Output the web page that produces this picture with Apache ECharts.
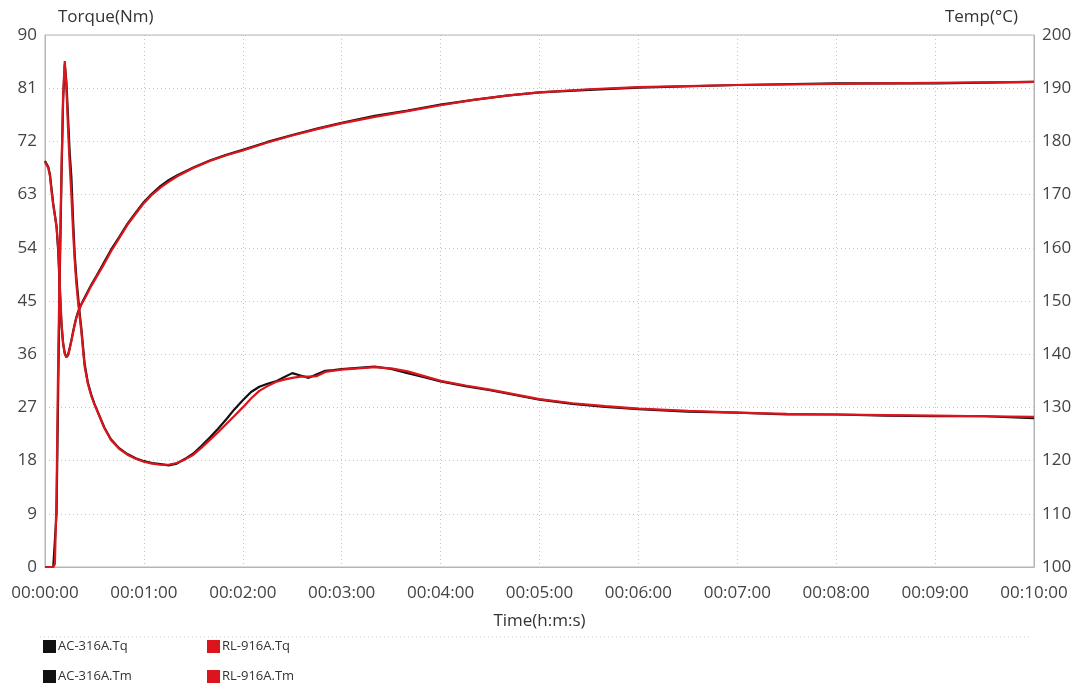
<!DOCTYPE html>
<html>
<head>
<meta charset="utf-8">
<script src="https://cdn.jsdelivr.net/npm/echarts@6/dist/echarts.min.js"></script>
<style>
html,body{margin:0;padding:0;background:#fff;}
#c{width:1076px;height:686px;}
</style>
</head>
<body>
<div id="c"></div>
<script>
// ---- data (time in seconds) ----
const xTicks = ['00:00:00','00:01:00','00:02:00','00:03:00','00:04:00','00:05:00','00:06:00','00:07:00','00:08:00','00:09:00','00:10:00'];
const seriesNames = ['AC-316A.Tq','RL-916A.Tq','AC-316A.Tm','RL-916A.Tm'];

const tqTime = [0,5,6,7,8,9,10,11,12,13,14,15,16,17,18,19,20,21,22,24,26,28,30,33,36,40,45,50,55,60,65,70,75,80,85,90,95,100,105,110,115,120,125,130,135,140,145,150,155,160,165,170,175,180,190,200,210,220,230,240,255,270,285,300,320,340,360,390,420,450,480,510,540,570,600];
const acTq = [0,0,0,9,30,50,66,79,85,82,76,70,66,59,53,49,46,43,40.5,34.5,31.2,29.2,27.6,25.6,23.6,21.6,20.1,19.1,18.4,17.9,17.6,17.4,17.2,17.5,18.3,19.2,20.5,21.9,23.4,25,26.7,28.2,29.6,30.5,31,31.4,32.1,32.8,32.4,32,32.6,33.2,33.3,33.5,33.7,33.9,33.5,32.8,32.1,31.4,30.6,29.9,29.1,28.3,27.6,27.1,26.7,26.3,26.1,25.8,25.8,25.6,25.5,25.5,25.2];
const rlTq = [0,0,0.5,12,35,52,67,80,85.6,81,74,68,63,57,52,48,45,42.5,40,34,31,29,27.5,25.5,23.5,21.5,20,19,18.3,17.8,17.5,17.3,17.3,17.6,18.2,19,20.2,21.5,22.8,24.2,25.6,27,28.5,29.8,30.6,31.3,31.7,32,32.2,32.2,32.3,33,33.2,33.4,33.6,33.8,33.6,33.1,32.3,31.5,30.7,30,29.2,28.4,27.7,27.2,26.8,26.4,26.1,25.9,25.8,25.7,25.6,25.5,25.4];

const tmTime = [0,1,2,3,4,5,6,7,8,9,10,11,12,13,14,15,16,17,18,19,20,22,25,28,31,35,40,45,50,55,60,65,70,75,80,90,100,110,120,135,150,165,180,200,220,240,260,280,300,330,360,420,480,540,600];
const acTm = [176.3,176,175.2,173.8,171,168.3,166.2,164,159.5,152,145.5,142,140.2,139.5,139.9,141.2,142.6,144.2,145.6,146.9,147.9,149.4,151.2,153,154.6,156.8,159.6,162,164.5,166.6,168.6,170.2,171.6,172.7,173.6,175.1,176.4,177.5,178.4,179.9,181.2,182.4,183.5,184.8,185.8,186.9,187.8,188.6,189.2,189.7,190.1,190.6,190.9,190.9,191.2];
const rlTm = [176.1,175.8,175,173.5,170.5,168,166,164,160,153,146,142,140,139.4,139.8,141,142.5,144,145.5,146.8,147.8,149.3,151,152.8,154.4,156.5,159.3,161.8,164.3,166.4,168.4,170,171.3,172.4,173.4,175,176.3,177.4,178.3,179.8,181.1,182.3,183.4,184.6,185.7,186.8,187.8,188.6,189.2,189.8,190.2,190.6,190.8,191,191.2];

const BLACK = '#111111';
const RED = '#dc141c';

function pairs(t, v){ return t.map((x,i)=>[x, v[i]]); }
function fmt(sec){
  const h = Math.floor(sec/3600), m = Math.floor((sec%3600)/60), s = Math.round(sec%60);
  const p = n => String(n).padStart(2,'0');
  return p(h)+':'+p(m)+':'+p(s);
}

const font = '"Open Sans", "Noto Sans", sans-serif';
const chart = echarts.init(document.getElementById('c'), null, {renderer:'canvas'});

const lineSeries = (name, data, color, yIdx, z) => ({
  name, type:'line', data, yAxisIndex:yIdx, showSymbol:false, symbol:'none',
  lineStyle:{color, width:2.2}, itemStyle:{color}, z, animation:false
});

const legendAt = (name, left, top) => ({
  data:[name], left, top, orient:'horizontal', padding:0,
  icon:'rect', itemWidth:13, itemHeight:13,
  textStyle:{color:'#333', fontSize:13, fontFamily:font, padding:[0,0,0,-3]}
});

chart.setOption({
  backgroundColor:'#ffffff',
  animation:false,
  grid:{left:45, right:42, top:35, bottom:119, show:true, borderColor:'#b5b5b5', borderWidth:1},
  xAxis:{
    type:'value', min:0, max:600, interval:60,
    name:'Time(h:m:s)', nameLocation:'middle', nameGap:46,
    nameTextStyle:{color:'#333', fontSize:17, fontFamily:font},
    axisLine:{show:true, lineStyle:{color:'#b5b5b5'}},
    axisTick:{show:false},
    axisLabel:{color:'#444', fontSize:17, fontFamily:font, margin:18,
      formatter:(v)=> xTicks[Math.round(v/60)] || fmt(v)},
    splitLine:{show:true, lineStyle:{color:'#c4c4c4', type:[1,3], width:1}}
  },
  yAxis:[{
    type:'value', min:0, max:90, interval:9, position:'left',
    name:'Torque(Nm)', nameLocation:'end', nameGap:9,
    nameTextStyle:{color:'#333', fontSize:17, fontFamily:font, align:'left', padding:[0,0,0,13]},
    axisLine:{show:true, lineStyle:{color:'#b5b5b5'}},
    axisTick:{show:false},
    axisLabel:{color:'#444', fontSize:17, fontFamily:font, margin:8},
    splitLine:{show:true, lineStyle:{color:'#c4c4c4', type:[1,3], width:1}}
  },{
    type:'value', min:100, max:200, interval:10, position:'right',
    name:'Temp(°C)', nameLocation:'end', nameGap:9,
    nameTextStyle:{color:'#333', fontSize:17, fontFamily:font, align:'right', padding:[0,16,0,0]},
    axisLine:{show:true, lineStyle:{color:'#b5b5b5'}},
    axisTick:{show:false},
    axisLabel:{color:'#444', fontSize:17, fontFamily:font, margin:8},
    splitLine:{show:false}
  }],
  legend:[
    legendAt(seriesNames[0], 43, 640),
    legendAt(seriesNames[1], 207, 640),
    legendAt(seriesNames[2], 43, 670),
    legendAt(seriesNames[3], 207, 670)
  ],
  graphic:[{
    type:'line', shape:{x1:40, y1:637, x2:1030, y2:637},
    style:{stroke:'#cfcfcf', lineWidth:1, lineDash:[1,3]}, silent:true
  }],
  series:[
    lineSeries(seriesNames[0], pairs(tqTime, acTq), BLACK, 0, 2),
    lineSeries(seriesNames[2], pairs(tmTime, acTm), BLACK, 1, 2),
    lineSeries(seriesNames[1], pairs(tqTime, rlTq), RED, 0, 3),
    lineSeries(seriesNames[3], pairs(tmTime, rlTm), RED, 1, 3)
  ]
});
</script>
</body>
</html>
